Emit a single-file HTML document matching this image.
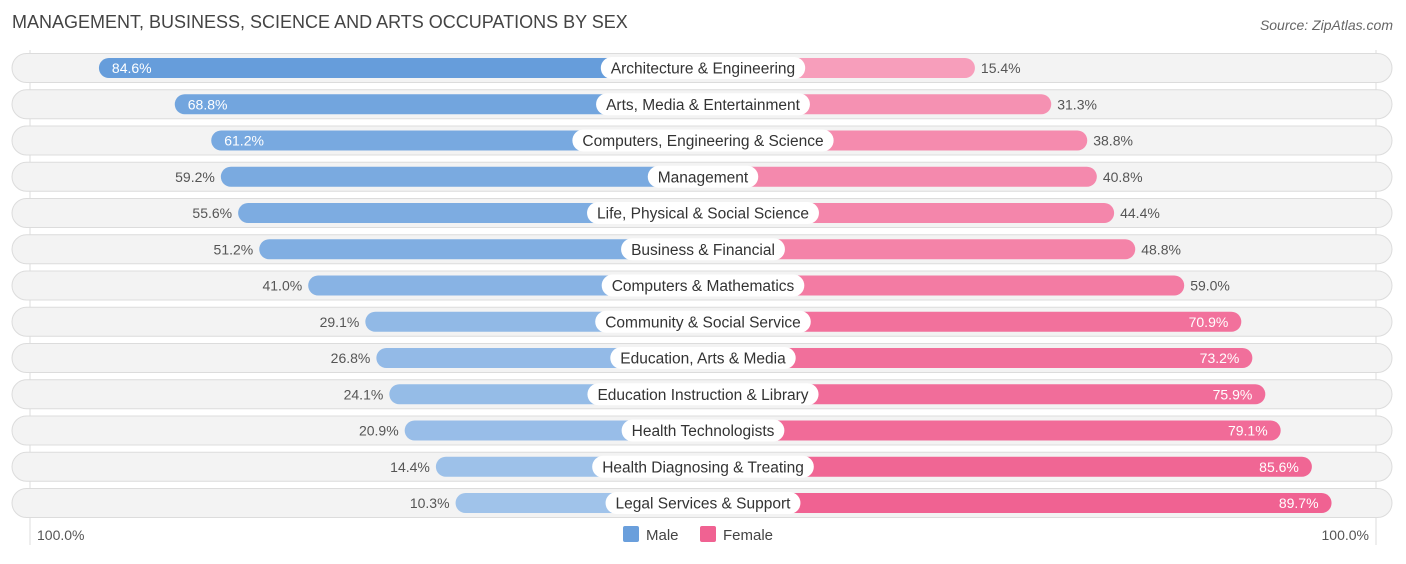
<!DOCTYPE html>
<html><head><meta charset="utf-8">
<style>
body{margin:0;background:#fff;font-family:"Liberation Sans",Roboto,sans-serif;}
svg text{font-family:"Liberation Sans",sans-serif;}
</style></head>
<body>
<svg id="chart" width="1406" height="559" viewBox="0 0 1406 559">
<text x="12" y="28" font-size="18" fill="#444">MANAGEMENT, BUSINESS, SCIENCE AND ARTS OCCUPATIONS BY SEX</text>
<text x="1393" y="30" font-size="14" fill="#666" text-anchor="end" font-style="italic">Source: ZipAtlas.com</text>
<line x1="30" y1="50" x2="30" y2="545" stroke="#ddd"/>
<line x1="1376" y1="50" x2="1376" y2="545" stroke="#ddd"/>
<g id="rows"></g>
<text x="37" y="540" font-size="14" fill="#555">100.0%</text>
<text x="1369" y="540" font-size="14" fill="#555" text-anchor="end">100.0%</text>
<g>
<rect x="623" y="526" width="16" height="16" rx="2" fill="#6a9fdc"/>
<text x="646" y="540" font-size="15" fill="#444">Male</text>
<rect x="700" y="526" width="16" height="16" rx="2" fill="#f06292"/>
<text x="723" y="540" font-size="15" fill="#444">Female</text>
</g>
</svg>
<script>
const categories=["Architecture & Engineering","Arts, Media & Entertainment","Computers, Engineering & Science","Management","Life, Physical & Social Science","Business & Financial","Computers & Mathematics","Community & Social Service","Education, Arts & Media","Education Instruction & Library","Health Technologists","Health Diagnosing & Treating","Legal Services & Support"];
const maleValues=[84.6,68.8,61.2,59.2,55.6,51.2,41.0,29.1,26.8,24.1,20.9,14.4,10.3];
const femaleValues=[15.4,31.3,38.8,40.8,44.4,48.8,59.0,70.9,73.2,75.9,79.1,85.6,89.7];
const NS="http://www.w3.org/2000/svg";
const cx=703, base=198, k=4.8;
function len(v){return base+k*v;}
function rowY(i){return 68+i*36.25;}
function mix(a,b,t){return "rgb("+a.map((x,j)=>Math.round(x+(b[j]-x)*t)).join(",")+")";}
function mk(tag,attrs,parent){const e=document.createElementNS(NS,tag);for(const a in attrs)e.setAttribute(a,attrs[a]);parent.appendChild(e);return e;}
const g=document.getElementById('rows');
categories.forEach((c,i)=>{
  const y=rowY(i);
  const row=mk('g',{},g);
  
  
  const bg=mk('rect',{x:12,y:y-14.5,width:1380,height:29,rx:14.5,fill:'#f3f3f3',stroke:'#dcdcdc'},row);
  
  
  const m=maleValues[i], f=femaleValues[i];
  const ml=len(m), fl=len(f);
  const mb=mk('rect',{x:cx-ml,y:y-10,width:ml+10,height:20,rx:10,fill:mix([168,200,236],[98,154,218],m/100*1.15>1?1:m/90)},row);
  
  
  const fb=mk('rect',{x:cx-10,y:y-10,width:fl+10,height:20,rx:10,fill:mix([248,170,195],[240,98,146],f/90>1?1:f/90)},row);
  
  
  const mIn=m>60, fIn=f>70;
  const mt=mk('text',{x:mIn?cx-ml+13:cx-ml-6,y:y+5,'font-size':14,fill:mIn?'#fff':'#555','text-anchor':mIn?'start':'end'},row);
  mt.textContent=m.toFixed(1)+"%";
  
  
  const ft=mk('text',{x:fIn?cx+fl-13:cx+fl+6,y:y+5,'font-size':14,fill:fIn?'#fff':'#555','text-anchor':fIn?'end':'start'},row);
  ft.textContent=f.toFixed(1)+"%";
  
  
  const lt=mk('text',{x:cx,y:y+5.5,'font-size':15.5,fill:'#333','text-anchor':'middle'},row);
  lt.textContent=c;
  
  
  const w=lt.getComputedTextLength()+20;
  const pill=mk('rect',{x:cx-w/2,y:y-11,width:w,height:22,rx:11,fill:'#fff'},row);
  
  
  row.insertBefore(pill,lt);
});
</script>
</body></html>
